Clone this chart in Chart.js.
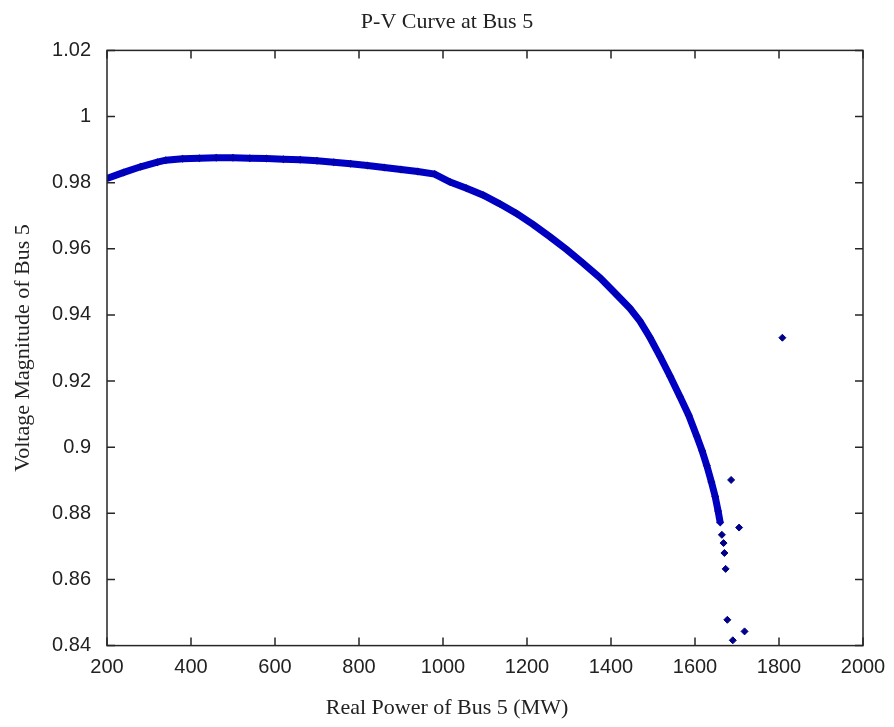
<!DOCTYPE html>
<html lang="en">
<head>
    <meta charset="UTF-8">
    <title>P-V Curve at Bus 5</title>
    <script src="https://cdn.jsdelivr.net/npm/chart.js"></script>
    <style>
        body {
            margin: 0;
            background: #ffffff;
        }
        .chart-box {
            width: 894px;
            height: 727px;
        }
    </style>
</head>
<body>
    <div class="chart-box">
        <canvas id="pvChart"></canvas>
    </div>

    <script>
        // Main P-V curve (MW, p.u.)
        const curvePower = [200, 240, 280, 320, 340, 380, 420, 460, 500, 540, 580, 620, 660, 700, 740, 780, 820, 860, 900, 940, 980,
            1017, 1056, 1096, 1135, 1175, 1215, 1255, 1295, 1334, 1374, 1413, 1445, 1469, 1493, 1517, 1541, 1564, 1585, 1604,
            1617, 1628, 1639, 1648, 1655, 1660];
        const curveVoltage = [0.9813, 0.9831, 0.9848, 0.9862, 0.9868, 0.9872, 0.9874, 0.9875, 0.9875, 0.9874, 0.9873, 0.9871, 0.9869, 0.9866, 0.9862, 0.9857, 0.9852, 0.9846, 0.9840, 0.9834, 0.9826,
            0.9802, 0.9783, 0.9762, 0.9736, 0.9707, 0.9673, 0.9636, 0.9597, 0.9556, 0.9512, 0.9462, 0.9420, 0.9381, 0.9331, 0.9274, 0.9214, 0.9153, 0.9097, 0.9034,
            0.8989, 0.8945, 0.8895, 0.8851, 0.8807, 0.8772];

        // Separate points near the nose and the stray solutions
        const pointPower = [1664, 1668, 1670, 1673, 1686, 1705, 1808, 1677, 1718, 1690];
        const pointVoltage = [0.8735, 0.8710, 0.8680, 0.8632, 0.8901, 0.8757, 0.9331, 0.8478, 0.8443, 0.8416];

        const xTickValues = [200, 400, 600, 800, 1000, 1200, 1400, 1600, 1800, 2000];
        const xTickLabels = ['200', '400', '600', '800', '1000', '1200', '1400', '1600', '1800', '2000'];
        const yTickValues = [0.84, 0.86, 0.88, 0.90, 0.92, 0.94, 0.96, 0.98, 1.00, 1.02];
        const yTickLabels = ['0.84', '0.86', '0.88', '0.9', '0.92', '0.94', '0.96', '0.98', '1', '1.02'];

        const toXY = (xs, ys) => xs.map((x, i) => ({ x: x, y: ys[i] }));

        // MATLAB style box with ticks pointing inwards
        const boxFrame = {
            id: 'boxFrame',
            afterDraw(chart) {
                const { ctx, chartArea: a, scales } = chart;
                const len = 8;
                ctx.save();
                ctx.strokeStyle = '#262626';
                ctx.lineWidth = 1.5;
                ctx.strokeRect(a.left, a.top, a.right - a.left, a.bottom - a.top);
                ctx.beginPath();
                xTickValues.forEach(v => {
                    const px = scales.x.getPixelForValue(v);
                    ctx.moveTo(px, a.bottom); ctx.lineTo(px, a.bottom - len);
                    ctx.moveTo(px, a.top); ctx.lineTo(px, a.top + len);
                });
                yTickValues.forEach(v => {
                    const py = scales.y.getPixelForValue(v);
                    ctx.moveTo(a.left, py); ctx.lineTo(a.left + len, py);
                    ctx.moveTo(a.right, py); ctx.lineTo(a.right - len, py);
                });
                ctx.stroke();
                ctx.restore();
            }
        };

        const tickFont = { family: '"Liberation Sans", Arial, sans-serif', size: 20 };
        const labelFont = { family: '"Liberation Serif", "Times New Roman", serif', size: 22, weight: 'normal' };

        new Chart(document.getElementById('pvChart'), {
            type: 'scatter',
            data: {
                datasets: [{
                    label: 'P-V curve',
                    data: toXY(curvePower, curveVoltage),
                    showLine: true,
                    borderColor: '#0000c4',
                    borderWidth: 7,
                    backgroundColor: '#0000b0',
                    pointStyle: 'rectRot',
                    pointRadius: 4,
                    pointBorderWidth: 0,
                }, {
                    label: 'points',
                    data: toXY(pointPower, pointVoltage),
                    showLine: false,
                    backgroundColor: '#000088',
                    borderColor: '#000088',
                    pointStyle: 'rectRot',
                    pointRadius: 3.5,
                    pointBorderWidth: 1,
                }],
            },
            options: {
                responsive: true,
                maintainAspectRatio: false,
                animation: false,
                layout: {
                    padding: { left: 0, right: 0, top: 0, bottom: 0 },
                },
                scales: {
                    x: {
                        type: 'linear',
                        min: 200,
                        max: 2000,
                        afterBuildTicks: (scale) => { scale.ticks = xTickValues.map(v => ({ value: v })); },
                        afterFit: (scale) => { scale.height = 49; },
                        grid: { display: false },
                        border: { display: false },
                        ticks: {
                            callback: (v, i) => xTickLabels[i],
                            font: tickFont,
                            color: '#222',
                            padding: 2,
                            maxRotation: 0,
                        },
                    },
                    y: {
                        type: 'linear',
                        min: 0.84,
                        max: 1.02,
                        afterBuildTicks: (scale) => { scale.ticks = yTickValues.map(v => ({ value: v })); },
                        afterFit: (scale) => { scale.width = 107; },
                        grid: { display: false },
                        border: { display: false },
                        ticks: {
                            callback: (v, i) => yTickLabels[i],
                            font: tickFont,
                            color: '#222',
                            padding: 8,
                        },
                        title: {
                            display: true,
                            text: 'Voltage Magnitude of Bus 5',
                            font: labelFont,
                            color: '#222',
                            padding: { top: 10, bottom: 0 },
                        },
                    },
                    // empty right-hand strip so the titles centre on the whole figure
                    yRight: {
                        position: 'right',
                        min: 0.84,
                        max: 1.02,
                        afterFit: (scale) => { scale.width = 31; },
                        grid: { display: false },
                        border: { display: false },
                        ticks: { display: false },
                    },
                },
                plugins: {
                    legend: { display: false },
                    tooltip: { enabled: false },
                    title: {
                        display: true,
                        text: 'P-V Curve at Bus 5',
                        font: labelFont,
                        color: '#222',
                        padding: { top: 9, bottom: 15 },
                    },
                    subtitle: {
                        display: true,
                        position: 'bottom',
                        text: 'Real Power of Bus 5 (MW)',
                        font: labelFont,
                        color: '#222',
                        padding: { top: 0, bottom: 6 },
                    },
                },
            },
            plugins: [boxFrame],
        });
    </script>
</body>
</html>
